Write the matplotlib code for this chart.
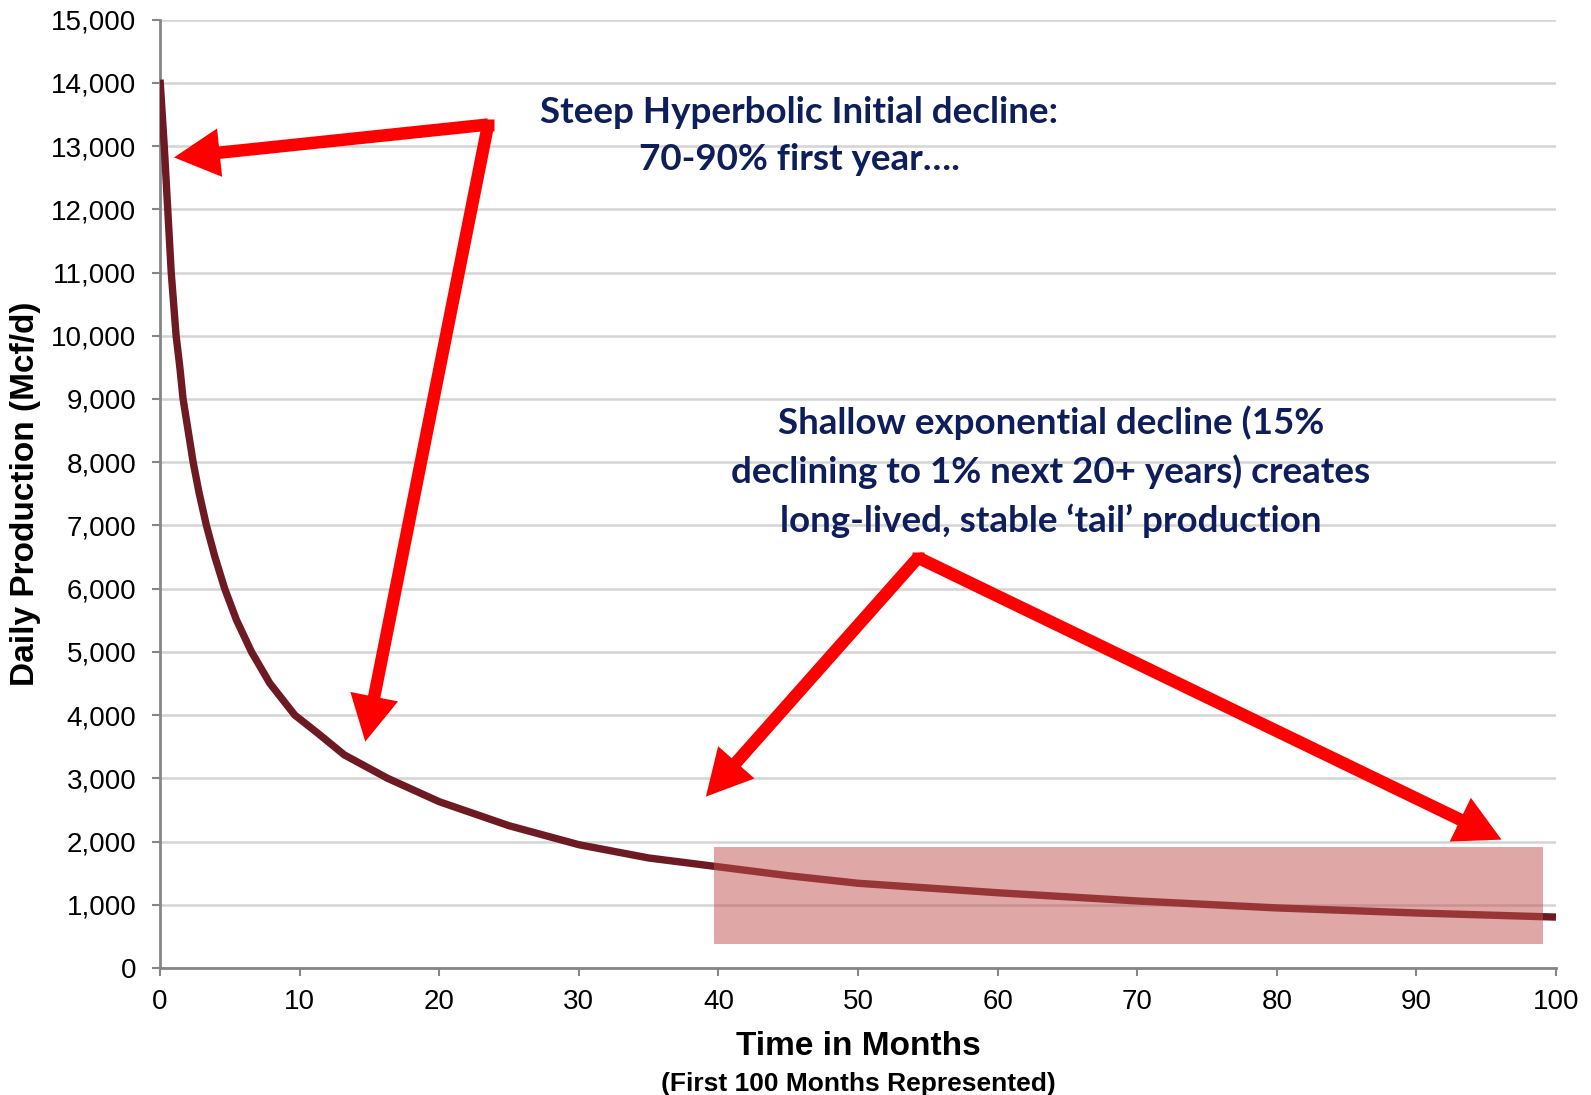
import numpy as np
import matplotlib
matplotlib.use("Agg")
import matplotlib.pyplot as plt
from matplotlib.patches import Rectangle

# production curve (months, Mcf/d)
months = [0, 0.3, 0.55, 0.8, 1.15, 1.41, 1.65, 2.0, 2.37, 2.8, 3.32, 3.92, 4.63, 5.47,
          6.55, 7.86, 9.65, 11.3, 13.2, 16.3, 20, 25, 30, 35, 40, 45, 50, 60, 70, 80, 90, 100]
prod = [14050, 13000, 12000, 11000, 10000, 9515, 9000, 8513, 8000, 7511, 7000, 6508, 6000, 5506,
        5000, 4504, 4000, 3713, 3370, 3000, 2630, 2250, 1950, 1740, 1600, 1460, 1340, 1190,
        1060, 950, 870, 805]

xticks = list(range(0, 101, 10))
yticks = list(range(0, 15001, 1000))

# tail highlight box (months, Mcf/d)
tail_box = (39.7, 380, 99.1, 1915)

# annotation arrows: vertex -> tips
arrows_a = [((23.5, 13340), (1.0, 12820)), ((23.5, 13340), (14.7, 3580))]
arrows_b = [((54.3, 6490), (39.1, 2710)), ((54.3, 6490), (96.1, 2030))]

text_a = "Steep Hyperbolic Initial decline:\n70-90% first year…."
text_b = ("Shallow exponential decline (15%\ndeclining to 1% next 20+ years) creates\n"
          "long-lived, stable \u2018tail\u2019 production")

plt.rcParams['font.family'] = ['Liberation Sans', 'DejaVu Sans']

fig = plt.figure(figsize=(15.91, 10.95), dpi=100)
ax = fig.add_axes([0.1006, 0.116, 0.8774, 0.8661])

ax.plot(months, prod, color='#6E1A22', lw=5.3, solid_capstyle='butt',
        solid_joinstyle='round', zorder=3)

x0, y0, x1, y1 = tail_box
ax.add_patch(Rectangle((x0, y0), x1 - x0, y1 - y0, facecolor='#C0504D', alpha=0.5,
                       edgecolor='none', zorder=4))

ax.set_xlim(0, 100)
ax.set_ylim(0, 15000)
ax.set_xticks(xticks)
ax.set_yticks(yticks)
ax.set_yticklabels([f"{v:,}" for v in yticks])
ax.grid(axis='y', color='#D4D4D4', lw=1.8, zorder=0)
ax.set_axisbelow(True)
for s in ['top', 'right']:
    ax.spines[s].set_visible(False)
for s in ['left', 'bottom']:
    ax.spines[s].set_color('#868686')
    ax.spines[s].set_linewidth(2)
ax.tick_params(axis='both', colors='#868686', labelcolor='black', labelsize=20,
               length=6, width=1.5)
ax.tick_params(axis='x', pad=9)
ax.tick_params(axis='y', pad=11)

ax.set_ylabel("Daily Production (Mcf/d)", fontsize=24, fontweight='bold',
              va='center', ha='center')
ax.yaxis.set_label_coords(-0.0967, 0.5)
ax.set_xlabel("Time in Months", fontsize=24, fontweight='bold', va='center')
ax.xaxis.set_label_coords(0.5, -0.0823)
ax.text(0.5, -0.1225, "(First 100 Months Represented)", transform=ax.transAxes,
        ha='center', va='center', fontsize=19, fontweight='bold')

style = 'simple,head_width=3.5,head_length=3.3,tail_width=0.9'
for start, tip in arrows_a + arrows_b:
    ax.annotate('', xy=tip, xytext=start,
                arrowprops=dict(arrowstyle=style, color='#FF0000', mutation_scale=10,
                                shrinkA=0, shrinkB=0, lw=0), zorder=5)
for start in [arrows_a[0][0], arrows_b[0][0]]:
    ax.plot(*start, marker='s', ms=9, color='#FF0000', mec='none', zorder=5)

navy = '#0E1E5B'
ax.text(45.8, 13160, text_a, ha='center', va='center', fontsize=26.5, fontweight='bold',
        color=navy, family='Lato', linespacing=1.5, zorder=6)
ax.text(63.8, 7850, text_b, ha='center', va='center', fontsize=26.5, fontweight='bold',
        color=navy, family='Lato', linespacing=1.5, zorder=6)

fig.savefig("out.png", dpi=100)
